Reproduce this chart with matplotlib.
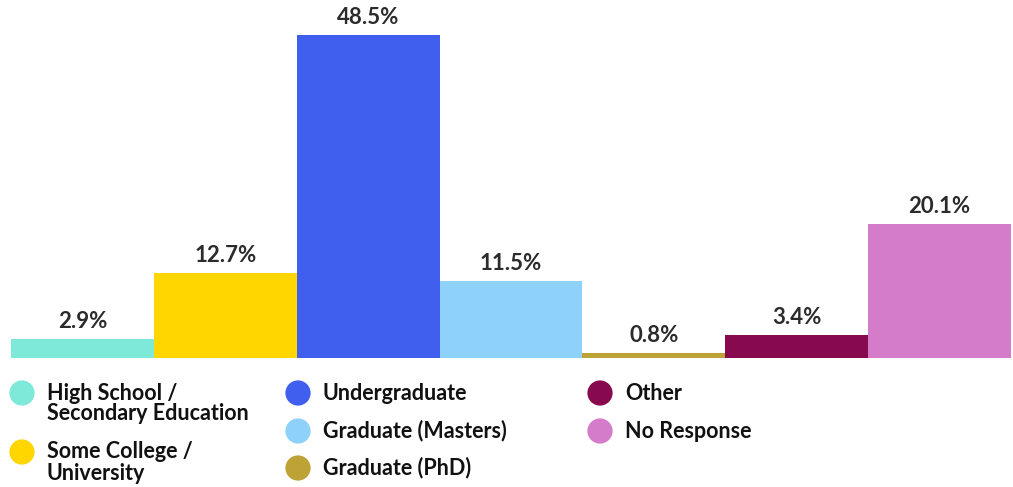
import matplotlib
matplotlib.use('Agg')
import matplotlib.pyplot as plt

categories = ['High School /\nSecondary Education', 'Some College /\nUniversity',
              'Undergraduate', 'Graduate (Masters)', 'Graduate (PhD)',
              'Other', 'No Response']
values = [2.9, 12.7, 48.5, 11.5, 0.8, 3.4, 20.1]
colors = ['#7EE8D9', '#FFD600', '#405FEE', '#8ED1FA', '#BDA235', '#880A4E', '#D47CC9']

# legend layout: (column x of circle, row y of circle) in pixels
legend_pos = [(22, 393), (22, 452), (298, 393), (298, 431), (298, 468),
              (600, 393), (600, 431)]

plt.rcParams['font.family'] = ['Lato', 'DejaVu Sans']

W, H = 1013, 487
fig = plt.figure(figsize=(W / 100, H / 100), dpi=100)

ax = fig.add_axes([11 / W, (H - 358) / H, 1000 / W, 353 / H])
x = range(len(values))
ax.bar(x, values, width=1.0, color=colors, align='center')
ax.set_xlim(-0.5, len(values) - 0.5)
ax.set_ylim(0, 48.5 * 353 / 323)
for i, v in enumerate(values):
    ax.annotate(f'{v}%', (i, v), xytext=(0, 5), textcoords='offset points',
                ha='center', va='bottom', fontsize=16, fontweight='bold',
                color='#2b2b2b')
ax.axis('off')

# legend drawn in pixel space
lax = fig.add_axes([0, 0, 1, 1])
lax.set_xlim(0, W)
lax.set_ylim(H, 0)
lax.axis('off')
for (cx, cy), label, c in zip(legend_pos, categories, colors):
    lax.scatter([cx], [cy], s=330, color=c, edgecolors='none')
    lines = label.split('\n')
    for j, line in enumerate(lines):
        lax.text(cx + 25, cy + j * 21, line, ha='left', va='center',
                 fontsize=15.5, fontweight='bold', color='#111111')

fig.savefig('out.png', dpi=100)
